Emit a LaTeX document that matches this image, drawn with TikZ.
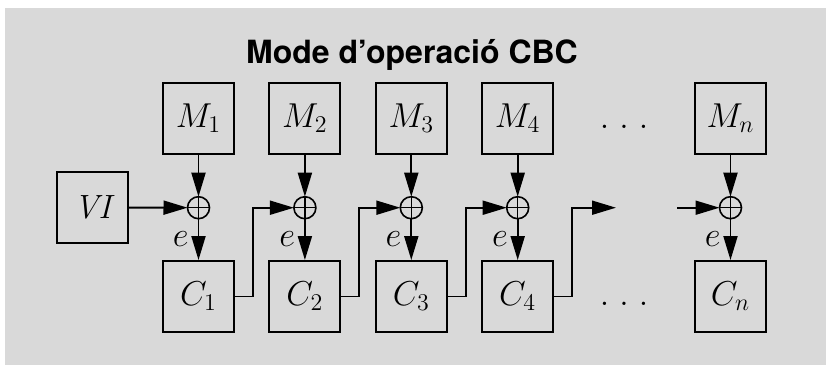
\documentclass[tikz,border=0pt]{standalone}
\usepackage{fontspec}
\newfontfamily\titlefont{TeX Gyre Heros}
\usetikzlibrary{arrows.meta}
\definecolor{bggray}{RGB}{217,217,217}
\begin{document}
\begin{tikzpicture}[x=0.5pt,y=-0.5pt,
  every node/.style={font=\fontsize{16.8pt}{20pt}\selectfont},
  blk/.style={draw, line width=0.95pt, minimum size=35.5pt, inner sep=0pt},
  xor/.style={draw, circle, line width=0.8pt, minimum size=11pt, inner sep=0pt, outer sep=0pt,
    path picture={\draw[line width=0.6pt] (path picture bounding box.north) -- (path picture bounding box.south)
      (path picture bounding box.west) -- (path picture bounding box.east);}},
  arr/.style={line width=0.95pt, -{Triangle[length=12pt,width=7pt]}},
  lbl/.style={left, inner sep=4.5pt},
  dots/.style={anchor=base}
]
\useasboundingbox (0,0) rectangle (826,365);
\fill[white] (0,0) rectangle (826,365);
\fill[bggray] (5,8) rectangle (826,365);

\node[anchor=base, font=\titlefont\fontsize{16pt}{19pt}\selectfont\bfseries] (title) at (412,63) {Mode d’operació CBC};

% plaintext row
\node[blk] (M1) at (198.5,118.5) {$M_1$};
\node[blk] (M2) at (304.9,118.5) {$M_2$};
\node[blk] (M3) at (411.3,118.5) {$M_3$};
\node[blk] (M4) at (517.7,118.5) {$M_4$};
\node[dots] (dM) at (624.1,128) {$.\ .\ .$};
\node[blk] (Mn) at (730.5,118.5) {$M_n$};

% xor row
\node[blk] (VI) at (92.5,207.5) {$\mathit{VI}$};
\node[xor] (X1) at (198.5,207.7) {};
\node[xor] (X2) at (304.9,207.7) {};
\node[xor] (X3) at (411.3,207.7) {};
\node[xor] (X4) at (517.7,207.7) {};
\node[xor] (Xn) at (730.5,207.7) {};
\coordinate (f1) at (616,207.7);
\coordinate (f2) at (677,207.7);

% ciphertext row
\node[blk] (C1) at (198.5,296.5) {$C_1$};
\node[blk] (C2) at (304.9,296.5) {$C_2$};
\node[blk] (C3) at (411.3,296.5) {$C_3$};
\node[blk] (C4) at (517.7,296.5) {$C_4$};
\node[dots] (dC) at (624.1,305.5) {$.\ .\ .$};
\node[blk] (Cn) at (730.5,296.5) {$C_n$};

% connectors
\draw[arr] (M1) -- (X1);
\draw[arr] (M2) -- (X2);
\draw[arr] (M3) -- (X3);
\draw[arr] (M4) -- (X4);
\draw[arr] (Mn) -- (Xn);

\draw[arr] (X1) -- node[lbl] {$e$} (C1);
\draw[arr] (X2) -- node[lbl] {$e$} (C2);
\draw[arr] (X3) -- node[lbl] {$e$} (C3);
\draw[arr] (X4) -- node[lbl] {$e$} (C4);
\draw[arr] (Xn) -- node[lbl] {$e$} (Cn);

\draw[arr] (VI) -- (X1);
\draw[arr] (C1.east) -- ++(18,0) |- (X2.west);
\draw[arr] (C2.east) -- ++(18,0) |- (X3.west);
\draw[arr] (C3.east) -- ++(18,0) |- (X4.west);
\draw[arr] (C4.east) -- ++(18,0) |- (f1);
\draw[arr] (f2) -- (Xn);
\end{tikzpicture}
\end{document}
